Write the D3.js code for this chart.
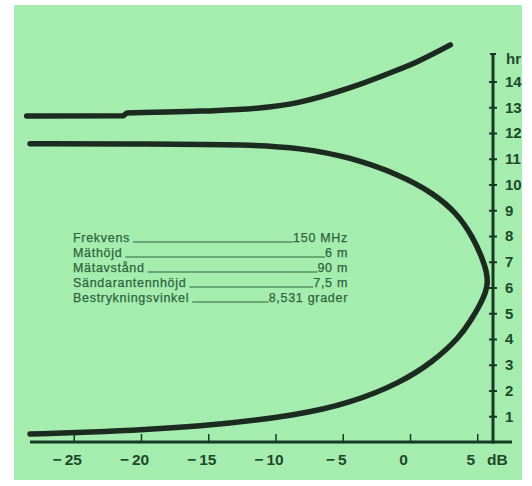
<!DOCTYPE html>
<html>
<head>
<meta charset="utf-8">
<script src="https://cdn.jsdelivr.net/npm/d3@7/dist/d3.min.js"></script>
<style>
  html, body { margin: 0; padding: 0; background: #ffffff; }
  svg { display: block; }
</style>
</head>
<body>
<svg id="chart" width="532" height="486"></svg>
<script>
// ---- data ----
const dbTicks = [-25, -20, -15, -10, -5, 0, 5];
const hrTicks = [1, 2, 3, 4, 5, 6, 7, 8, 9, 10, 11, 12, 13, 14];

// upper curve (field strength dB vs receiver height hr)
const upperDb = [-28.5, -21.3, -21.05, -15.6, -11.2, -8.2, -4.5, -1.5, 0.5, 3.0];
const upperHr = [12.66, 12.67, 12.78, 12.85, 12.97, 13.2, 13.75, 14.33, 14.76, 15.42];

// lower lobe (from its top end, round the nose, to its bottom end)
const lowerDb = [-28.25, -19.3, -11.9, -8.2, -4.46, -0.74, 1.71, 3.49, 4.68, 5.43, 5.70, 5.78, 5.62, 5.20, 4.54, 3.72, 1.71, -0.74, -4.46, -8.18, -15.6, -23.0, -28.25];
const lowerHr = [11.58, 11.58, 11.55, 11.42, 11.07, 10.37, 9.67, 8.89, 7.96, 7.07, 6.60, 6.17, 5.79, 5.32, 4.74, 4.08, 3.11, 2.29, 1.51, 1.05, 0.58, 0.39, 0.31];

const paramNames = ["Frekvens", "Mäthöjd", "Mätavstånd", "Sändarantennhöjd", "Bestrykningsvinkel"];
const paramValues = ["150 MHz", "6 m", "90 m", "7,5 m", "8,531 grader"];

// ---- drawing ----
const svg = d3.select("#chart");
const ink = "#1c2b20";
const axisInk = "#173a22";
const labelInk = "#1d4a2a";
const tableInk = "#2c643b";
const font = "Liberation Sans, Arial, sans-serif";

svg.append("defs").append("clipPath").attr("id", "page")
  .append("rect").attr("x", 14).attr("y", 5).attr("width", 508).attr("height", 475);
const root = svg.append("g").attr("clip-path", "url(#page)");

root.append("rect").attr("x", 14).attr("y", 5).attr("width", 508).attr("height", 475)
  .attr("fill", "#a5ecaf");

const x = d3.scaleLinear().domain([-25, 5]).range([73.75, 477.25]);
const y = d3.scaleLinear().domain([0, 14]).range([442, 81.5]);

const axisX = 493; // vertical axis position
const axisY = y(0);

// x axis
const xAxis = d3.axisBottom(x).tickValues(dbTicks).tickSize(0).tickSizeOuter(0)
  .tickFormat(d => d < 0 ? "\u2212\u2009" + Math.abs(d) : String(d));
const gx = root.append("g").attr("transform", `translate(0,${axisY})`).call(xAxis);
gx.select(".domain").remove();
gx.selectAll(".tick text").attr("dy", 0).attr("y", 23).attr("x", -7)
  .attr("font-family", font)
  .attr("font-size", 15.5).attr("font-weight", "bold").attr("fill", labelInk);
gx.selectAll(".tick").append("line")
  .attr("x1", 0).attr("x2", 0).attr("y1", 0).attr("y2", -8)
  .attr("stroke", axisInk).attr("stroke-width", 1.5);
root.append("line").attr("x1", 30).attr("x2", 512).attr("y1", axisY).attr("y2", axisY)
  .attr("stroke", axisInk).attr("stroke-width", 3);
root.append("text").attr("x", 487).attr("y", axisY + 23).text("dB")
  .attr("font-family", font)
  .attr("font-size", 15.5).attr("font-weight", "bold").attr("fill", labelInk);

// y axis
const yAxis = d3.axisRight(y).tickValues(hrTicks).tickSize(4).tickSizeOuter(0);
const gy = root.append("g").attr("transform", `translate(${axisX},0)`).call(yAxis);
gy.select(".domain").remove();
gy.selectAll(".tick line").attr("x1", -4).attr("x2", 4)
  .attr("stroke", axisInk).attr("stroke-width", 2);
gy.selectAll(".tick text").attr("x", 12)
  .attr("font-family", font)
  .attr("font-size", 15).attr("font-weight", "bold").attr("fill", labelInk);
root.append("line").attr("x1", axisX).attr("x2", axisX).attr("y1", 53).attr("y2", axisY + 1.5)
  .attr("stroke", axisInk).attr("stroke-width", 3);
root.append("line").attr("x1", axisX - 3).attr("x2", axisX + 3).attr("y1", 54).attr("y2", 54)
  .attr("stroke", axisInk).attr("stroke-width", 2);
root.append("text").attr("x", 506).attr("y", 64).text("hr")
  .attr("font-family", font)
  .attr("font-size", 15).attr("font-weight", "bold").attr("fill", labelInk);

// curves
const upper = upperDb.map((d, i) => [d, upperHr[i]]);
const lower = lowerDb.map((d, i) => [d, lowerHr[i]]);
const lineX = d3.line().x(d => x(d[0])).y(d => y(d[1])).curve(d3.curveMonotoneX);
const lineB = d3.line().x(d => x(d[0])).y(d => y(d[1])).curve(d3.curveBasis);
[[upper, lineX], [lower, lineB]].forEach(([pts, gen]) => {
  root.append("path").attr("d", gen(pts)).attr("fill", "none")
    .attr("stroke", ink).attr("stroke-width", 5.5)
    .attr("stroke-linecap", "round").attr("stroke-linejoin", "round");
});

// parameter table
const tbl = root.append("g").attr("font-family", font)
  .attr("font-size", 12.5).attr("letter-spacing", 0.7).attr("fill", tableInk)
  .attr("stroke", tableInk).attr("stroke-width", 0.25);
const rowY = [242, 257, 272, 287, 302];
paramNames.forEach((n, i) => {
  const t = tbl.append("text").attr("x", 73).attr("y", rowY[i]).text(n);
  const v = tbl.append("text").attr("x", 348).attr("y", rowY[i]).attr("text-anchor", "end").text(paramValues[i]);
  const tw = t.node().getComputedTextLength();
  const vw = v.node().getComputedTextLength();
  tbl.append("line").attr("x1", 73 + tw + 3).attr("x2", 348 - vw)
    .attr("y1", rowY[i]).attr("y2", rowY[i])
    .attr("stroke", tableInk).attr("stroke-width", 1);
});
</script>
</body>
</html>
